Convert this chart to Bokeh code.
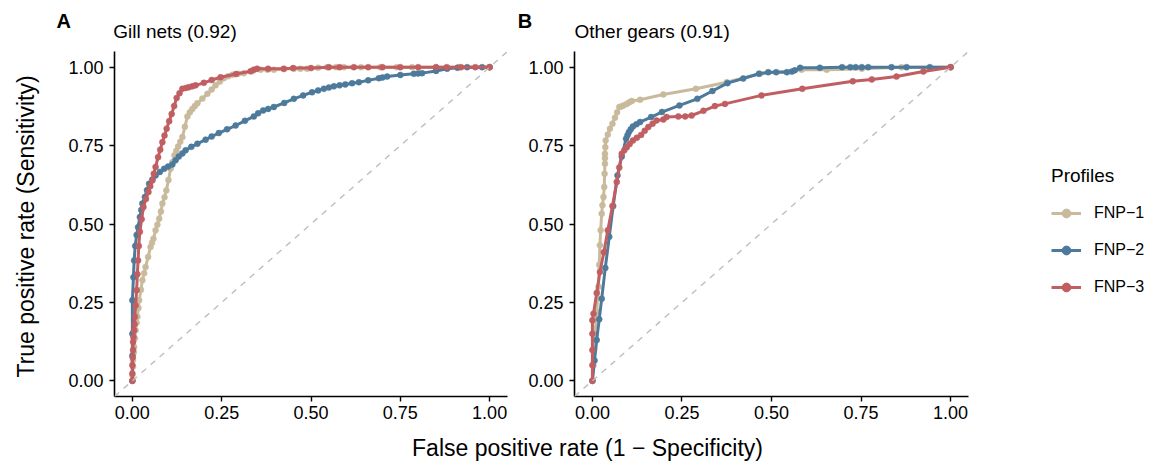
import math
from bokeh.plotting import figure
from bokeh.models import Range1d, FixedTicker, NumeralTickFormatter, Legend, LegendItem, Label, Slope
from bokeh.layouts import row, column
from bokeh.embed import file_html
from bokeh.resources import INLINE

FONT = "Liberation Sans"
TICKS = [0, 0.25, 0.5, 0.75, 1.0]
PROFILES = ["FNP\u22121", "FNP\u22122", "FNP\u22123"]
COLORS = ["#C9BA9C", "#4D7A9B", "#C05E61"]
PANEL_TITLES = ["Gill nets (0.92)", "Other gears (0.91)"]
PANEL_TAGS = ["A", "B"]
X_TITLE = "False positive rate (1 \u2212 Specificity)"
Y_TITLE = "True positive rate (Sensitivity)"
LEGEND_TITLE = "Profiles"

# ---- Panel A : Gill nets ----
gill_fnp1_fpr = [0, 0.000, 0.002, 0.002, 0.004, 0.005, 0.007, 0.009, 0.012, 0.014, 0.017, 0.019, 0.024, 0.028, 0.033, 0.037,
                 0.044, 0.051, 0.055, 0.059, 0.065, 0.070, 0.075, 0.080, 0.084, 0.090, 0.095, 0.101, 0.107, 0.112, 0.118,
                 0.123, 0.128, 0.134, 0.140, 0.147, 0.154, 0.161, 0.168, 0.175, 0.182, 0.196, 0.210, 0.222, 0.233, 0.245,
                 0.256, 0.268, 0.280, 0.296, 0.312, 0.335, 0.359, 0.378, 0.396, 0.424, 0.452, 0.470, 0.489, 0.520, 0.545,
                 0.570, 0.592, 0.640, 0.694, 0.740, 0.783, 0.850, 0.913, 1.0]
gill_fnp1_tpr = [0, 0.018, 0.045, 0.066, 0.090, 0.108, 0.135, 0.161, 0.185, 0.204, 0.232, 0.257, 0.290, 0.321, 0.343, 0.363,
                 0.395, 0.427, 0.440, 0.453, 0.480, 0.498, 0.517, 0.540, 0.565, 0.585, 0.607, 0.640, 0.676, 0.697, 0.719,
                 0.733, 0.747, 0.762, 0.777, 0.810, 0.843, 0.856, 0.867, 0.876, 0.885, 0.900, 0.915, 0.929, 0.942, 0.954,
                 0.965, 0.971, 0.976, 0.979, 0.981, 0.987, 0.992, 0.992, 0.992, 0.994, 0.995, 0.995, 0.995, 0.998, 1.0,
                 1.0, 1.0, 1.0, 1.0, 1.0, 1.0, 1.0, 1.0, 1.0]

gill_fnp2_fpr = [0, 0, 0, 0, 0.003, 0.005, 0.008, 0.012, 0.016, 0.021, 0.025, 0.028, 0.035, 0.041, 0.047, 0.056, 0.065,
                 0.077, 0.089, 0.100, 0.112, 0.121, 0.130, 0.140, 0.149, 0.165, 0.182, 0.205, 0.222, 0.242, 0.265, 0.289,
                 0.315, 0.340, 0.352, 0.366, 0.380, 0.396, 0.425, 0.452, 0.478, 0.503, 0.520, 0.536, 0.550, 0.564, 0.580,
                 0.596, 0.615, 0.634, 0.660, 0.690, 0.700, 0.713, 0.750, 0.788, 0.800, 0.811, 0.850, 0.881, 0.910, 0.937,
                 0.979, 1.0]
gill_fnp2_tpr = [0, 0.080, 0.150, 0.257, 0.330, 0.384, 0.430, 0.465, 0.490, 0.522, 0.545, 0.565, 0.586, 0.608, 0.628, 0.642,
                 0.655, 0.666, 0.676, 0.683, 0.690, 0.703, 0.715, 0.725, 0.735, 0.746, 0.756, 0.769, 0.779, 0.790, 0.802,
                 0.814, 0.829, 0.843, 0.853, 0.862, 0.867, 0.873, 0.886, 0.899, 0.910, 0.920, 0.926, 0.931, 0.935, 0.939,
                 0.942, 0.945, 0.949, 0.952, 0.958, 0.965, 0.967, 0.970, 0.975, 0.979, 0.980, 0.981, 0.988, 0.995, 0.998,
                 1.0, 1.0, 1.0]

gill_fnp3_fpr = [0, 0, 0, 0.001, 0.002, 0.002, 0.003, 0.005, 0.006, 0.007, 0.009, 0.012, 0.014, 0.016, 0.018, 0.021, 0.026,
                 0.031, 0.038, 0.045, 0.050, 0.056, 0.060, 0.065, 0.072, 0.078, 0.084, 0.090, 0.096, 0.103, 0.110, 0.117,
                 0.124, 0.132, 0.140, 0.150, 0.158, 0.168, 0.177, 0.200, 0.222, 0.247, 0.290, 0.331, 0.340, 0.349, 0.380,
                 0.424, 0.450, 0.500, 0.550, 0.580, 0.620, 0.660, 0.700, 0.750, 0.800, 0.850, 0.880, 0.920, 0.960, 1.0]
gill_fnp3_tpr = [0, 0.023, 0.050, 0.075, 0.098, 0.124, 0.140, 0.161, 0.180, 0.204, 0.240, 0.289, 0.340, 0.384, 0.430, 0.475,
                 0.515, 0.554, 0.580, 0.602, 0.620, 0.639, 0.660, 0.682, 0.713, 0.737, 0.761, 0.782, 0.804, 0.828, 0.851,
                 0.876, 0.902, 0.917, 0.931, 0.934, 0.936, 0.939, 0.942, 0.950, 0.959, 0.968, 0.978, 0.987, 0.992, 0.995,
                 0.995, 0.995, 0.997, 0.997, 1.0, 1.0, 1.0, 1.0, 1.0, 1.0, 1.0, 1.0, 1.0, 1.0, 1.0, 1.0]

# ---- Panel B : Other gears ----
other_fnp1_fpr = [0, 0.003, 0.005, 0.007, 0.012, 0.017, 0.019, 0.021, 0.023, 0.026, 0.028, 0.031, 0.033, 0.034, 0.035,
                  0.035, 0.035, 0.036, 0.037, 0.043, 0.049, 0.056, 0.063, 0.069, 0.075, 0.081, 0.087, 0.096, 0.103, 0.110,
                  0.133, 0.198, 0.289, 0.375, 0.468, 0.584, 0.654, 0.752, 0.863, 1.0]
other_fnp1_tpr = [0, 0.050, 0.100, 0.150, 0.220, 0.300, 0.370, 0.432, 0.480, 0.533, 0.560, 0.586, 0.618, 0.660, 0.692,
                  0.710, 0.724, 0.745, 0.766, 0.785, 0.804, 0.820, 0.839, 0.856, 0.873, 0.875, 0.878, 0.883, 0.888, 0.892,
                  0.896, 0.913, 0.931, 0.952, 0.979, 0.992, 0.992, 0.995, 1.0, 1.0]

other_fnp2_fpr = [0, 0.006, 0.012, 0.019, 0.026, 0.036, 0.047, 0.058, 0.070, 0.082, 0.094, 0.098, 0.102, 0.107, 0.113,
                  0.123, 0.133, 0.164, 0.194, 0.243, 0.293, 0.335, 0.377, 0.421, 0.465, 0.491, 0.513, 0.543, 0.557, 0.565,
                  0.580, 0.635, 0.697, 0.720, 0.735, 0.752, 0.770, 0.835, 0.877, 0.942, 1.0]
other_fnp2_tpr = [0, 0.065, 0.130, 0.196, 0.262, 0.360, 0.459, 0.557, 0.655, 0.715, 0.772, 0.783, 0.793, 0.802, 0.811,
                  0.818, 0.825, 0.841, 0.857, 0.878, 0.899, 0.924, 0.949, 0.964, 0.979, 0.984, 0.984, 0.984, 0.986, 0.990,
                  0.998, 0.998, 1.0, 1.0, 1.0, 1.0, 1.0, 1.0, 1.0, 1.0, 1.0]

other_fnp3_fpr = [0, 0, 0, 0, 0, 0.003, 0.012, 0.021, 0.032, 0.043, 0.056, 0.068, 0.075, 0.082, 0.089, 0.096, 0.104, 0.113,
                  0.124, 0.136, 0.146, 0.156, 0.168, 0.179, 0.198, 0.207, 0.240, 0.259, 0.277, 0.310, 0.342, 0.370, 0.472,
                  0.586, 0.727, 0.780, 0.849, 0.924, 1.0]
other_fnp3_tpr = [0, 0.050, 0.098, 0.150, 0.193, 0.214, 0.280, 0.347, 0.410, 0.480, 0.557, 0.634, 0.680, 0.724, 0.735,
                  0.745, 0.755, 0.766, 0.775, 0.784, 0.797, 0.809, 0.820, 0.830, 0.833, 0.841, 0.843, 0.843, 0.846, 0.861,
                  0.876, 0.883, 0.910, 0.931, 0.955, 0.961, 0.970, 0.986, 1.0]

PANELS = [
    [(gill_fnp1_fpr, gill_fnp1_tpr), (gill_fnp2_fpr, gill_fnp2_tpr), (gill_fnp3_fpr, gill_fnp3_tpr)],
    [(other_fnp1_fpr, other_fnp1_tpr), (other_fnp2_fpr, other_fnp2_tpr), (other_fnp3_fpr, other_fnp3_tpr)],
]

# ---- layout (pixels) ----
HEADER_H = 51
FRAME_H = 345
BOTTOM = 32
PANEL_H = FRAME_H + BOTTOM
XT_H = 36
YT_W = 50
LEG_W = 164
NAN = float("nan")


def blank(width, height):
    f = figure(width=width, height=height, x_range=Range1d(0, 1), y_range=Range1d(0, 1),
               output_backend="svg", toolbar_location=None, min_border=0,
               x_axis_location=None, y_axis_location=None)
    f.grid.visible = False
    f.outline_line_color = None
    f.background_fill_color = "white"
    f.border_fill_color = "white"
    return f


def text_label(x, y, text, size, **kw):
    return Label(x=x, y=y, x_units="screen", y_units="screen", text=text, text_font=FONT,
                 text_font_size=size, text_color="black", text_baseline="alphabetic", **kw)


def make_panel(idx, width, left, right):
    p = figure(width=width, height=PANEL_H,
               x_range=Range1d(-0.05, 1.05), y_range=Range1d(-0.05, 1.05),
               output_backend="svg", toolbar_location=None,
               min_border_left=left, min_border_right=right,
               min_border_top=0, min_border_bottom=BOTTOM)
    p.grid.visible = False
    p.outline_line_color = None
    p.background_fill_color = "white"
    p.border_fill_color = "white"
    for ax in (p.xaxis[0], p.yaxis[0]):
        ax.ticker = FixedTicker(ticks=TICKS)
        ax.formatter = NumeralTickFormatter(format="0.00")
        ax.axis_line_color = "black"
        ax.axis_line_width = 1.6
        ax.major_tick_line_color = "black"
        ax.major_tick_line_width = 1.4
        ax.major_tick_out = 5
        ax.major_tick_in = 0
        ax.minor_tick_line_color = None
        ax.major_label_text_font = FONT
        ax.major_label_text_font_size = "18px"
        ax.major_label_text_color = "black"
    p.xaxis[0].major_label_standoff = 4
    p.yaxis[0].major_label_standoff = 6

    p.add_layout(Slope(gradient=1, y_intercept=0, line_color="#BEBEBE",
                       line_width=1.4, line_dash="6 6"))

    for (xs, ys), color in zip(PANELS[idx], COLORS):
        p.line(xs, ys, line_color=color, line_width=3, line_join="round", line_cap="round")
        p.scatter(xs, ys, size=6, fill_color=color, line_color=color, line_width=0.5)
    return p


# header with panel tags and subtitles
header = blank(1152, HEADER_H)
header.add_layout(text_label(56, 31, PANEL_TAGS[0], "20px", text_font_style="bold"))
header.add_layout(text_label(112.7, 20.5, PANEL_TITLES[0], "19px"))
header.add_layout(text_label(517.3, 31, PANEL_TAGS[1], "20px", text_font_style="bold"))
header.add_layout(text_label(574, 20.5, PANEL_TITLES[1], "19px"))

# y-axis title (its frame is aligned with the panel frames: y from frame bottom)
ytitle = blank(YT_W, PANEL_H)
ytitle.add_layout(text_label(25, 170, Y_TITLE, "23px", angle=math.pi / 2, text_align="center"))

pA = make_panel(0, 464, 64, 7)
pB = make_panel(1, 474, 60, 20)

# legend panel (key glyphs only, no data drawn)
leg = blank(LEG_W, PANEL_H)
items = []
for name, color in zip(PROFILES, COLORS):
    lr = leg.line(x=[NAN], y=[NAN], line_color=color, line_width=3)
    sr = leg.scatter(x=[NAN], y=[NAN], size=6, fill_color=color, line_color=color)
    items.append(LegendItem(label=name, renderers=[lr, sr]))
legend = Legend(items=items, title=LEGEND_TITLE, location=(63, 98), orientation="vertical")
legend.title_text_font = FONT
legend.title_text_font_size = "19px"
legend.title_text_font_style = "normal"
legend.title_text_color = "black"
legend.title_standoff = 15
legend.label_text_font = FONT
legend.label_text_font_size = "16px"
legend.label_text_color = "black"
legend.glyph_width = 30
legend.glyph_height = 22
legend.label_height = 22
legend.label_standoff = 13
legend.spacing = 15
legend.padding = 0
legend.margin = 0
legend.border_line_color = None
legend.background_fill_alpha = 0
leg.add_layout(legend, "center")

# x-axis title
xtitle = blank(1152, XT_H)
xtitle.add_layout(text_label(587, 17, X_TITLE, "23px", text_align="center"))

layout = column(header, row(ytitle, pA, pB, leg), xtitle)
open("out.html", "w").write(file_html(layout, INLINE))
